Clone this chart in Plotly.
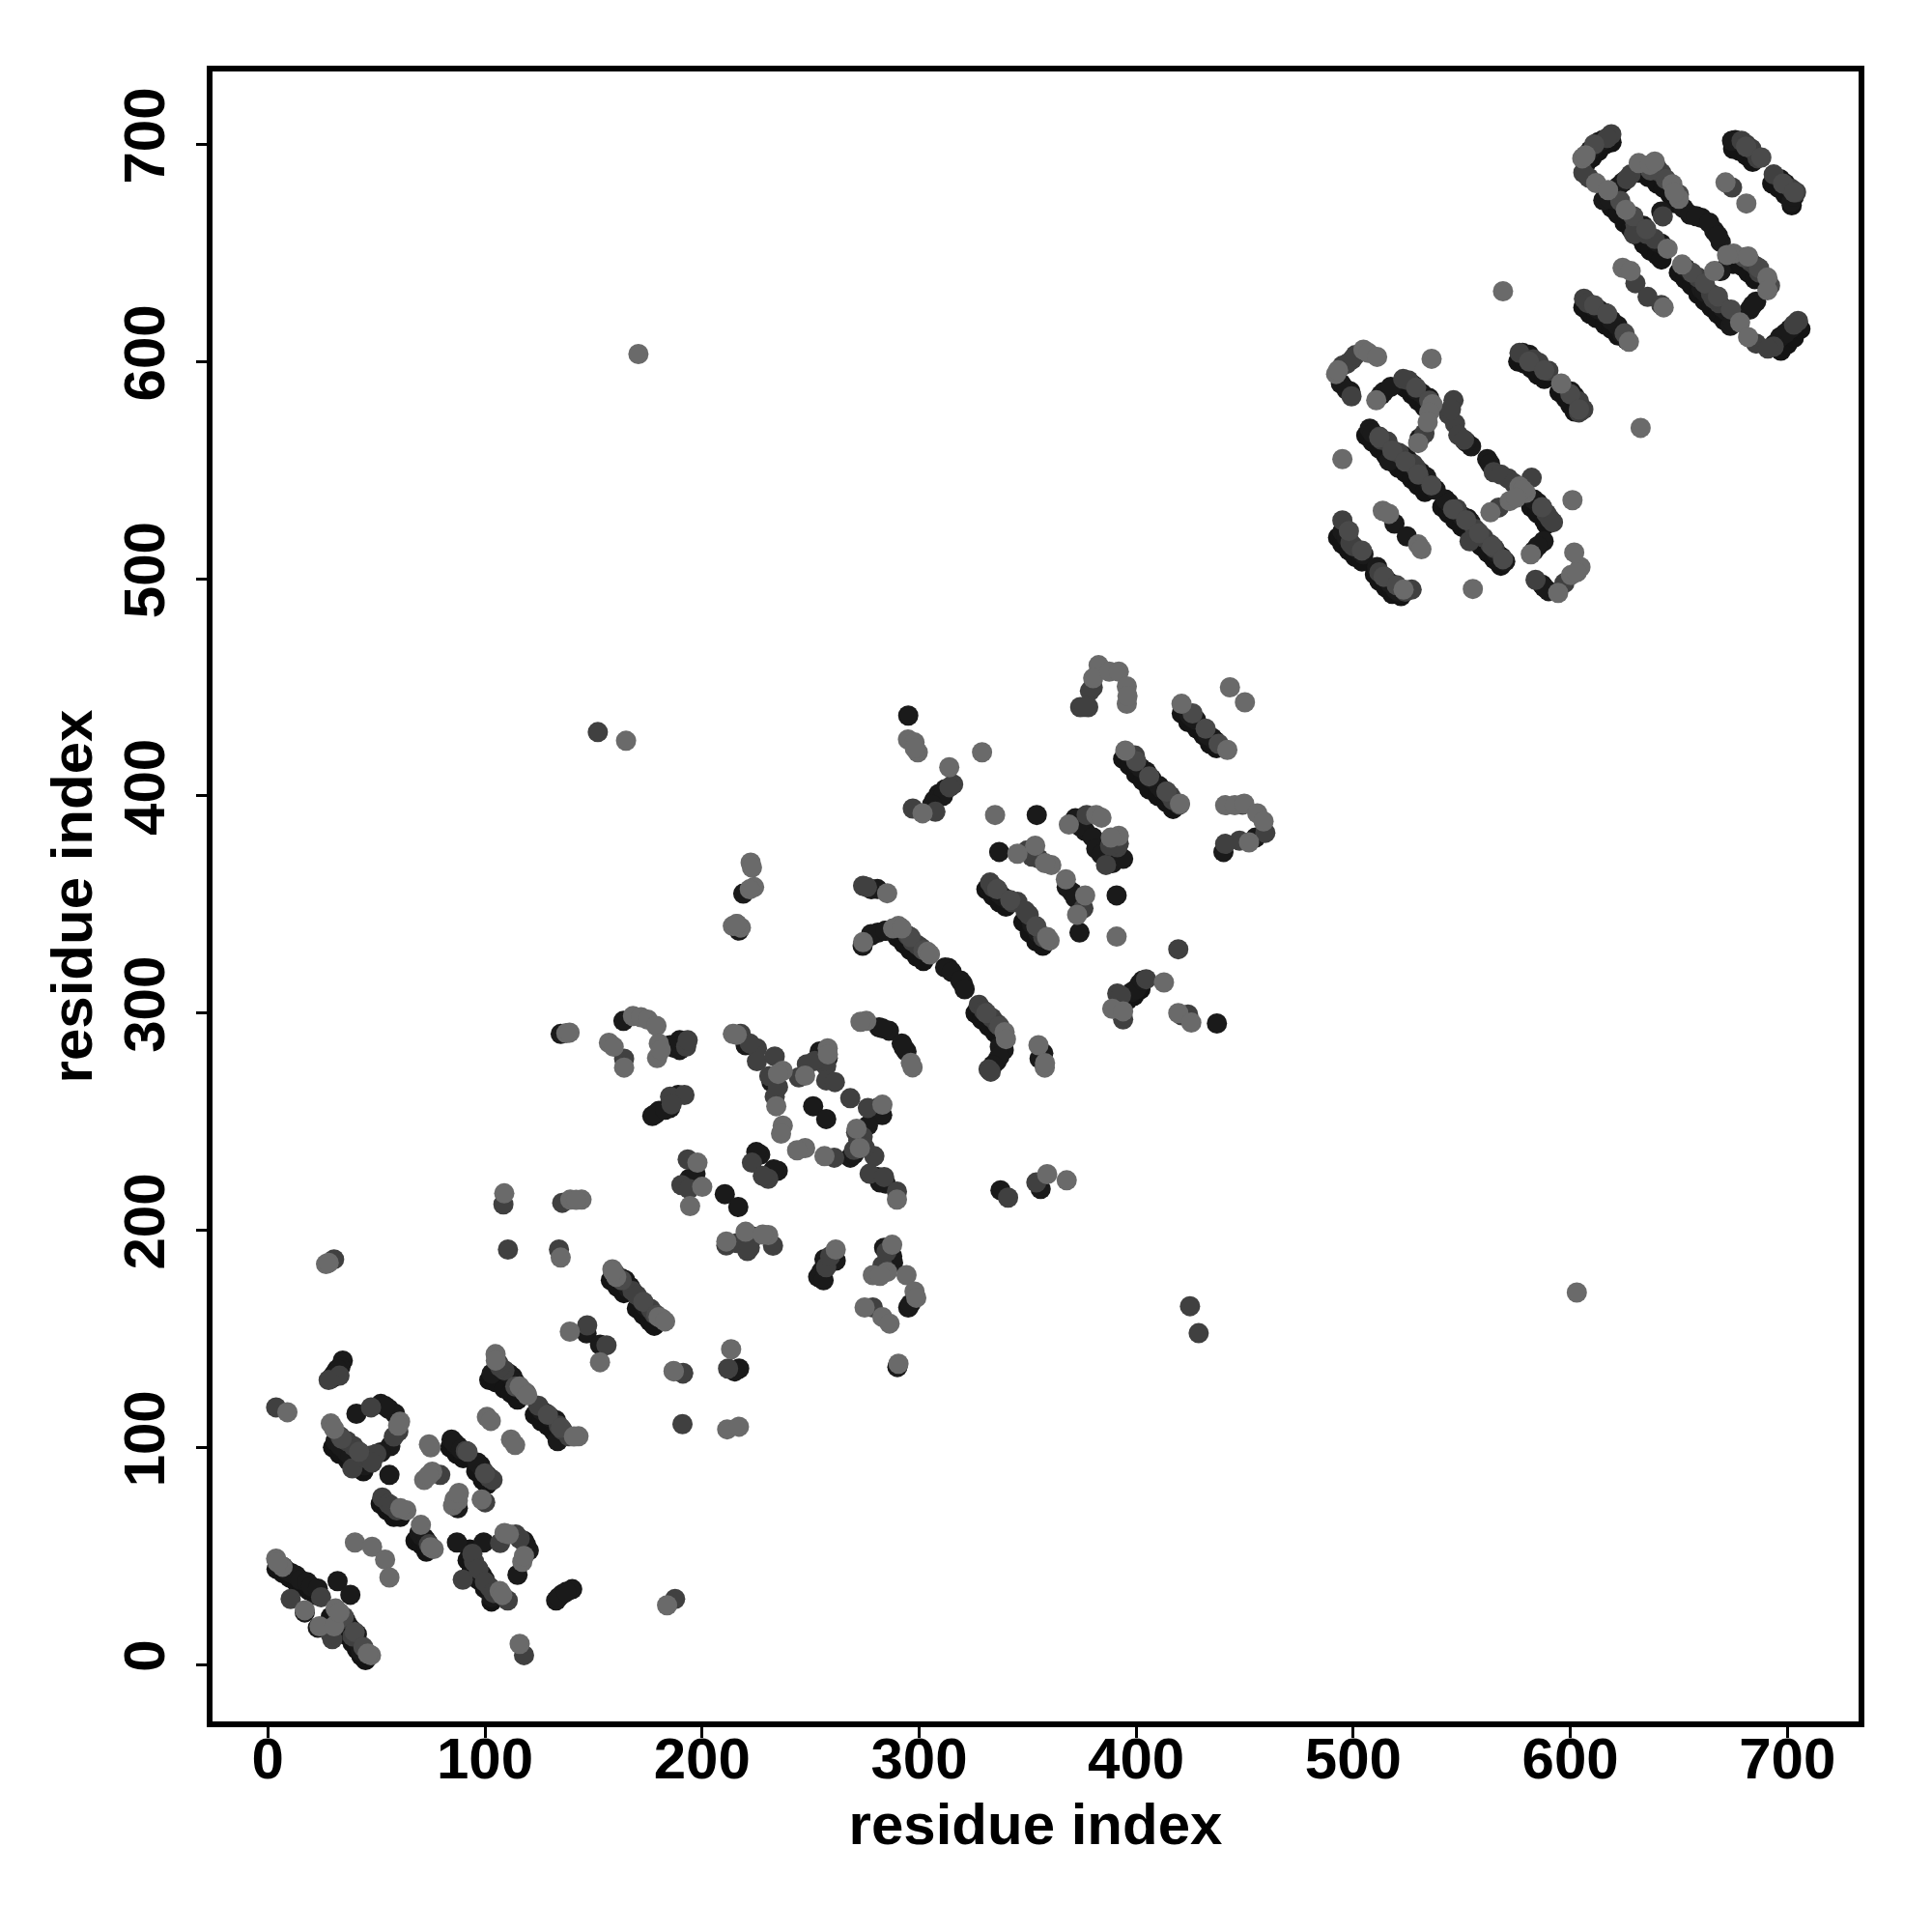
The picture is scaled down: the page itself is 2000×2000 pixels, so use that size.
import plotly.graph_objects as go

edge_strong = [
(4,44),(7,42),(10,40),(13,38),(16,36),(19,34),(22,32),(29,22),(32,19),(35,16),(37,13),(39,10),(41,7),(43,4),(45,2),
(30,100),(33,97),(37,94),(40,91),(44,89),
(84,100),(87,97),(90,95),(96,89),(99,85),(101,83),(52,74),(55,71),(58,68),(61,68),(68,57),(71,55),(73,52),
(93,53),(92,48),(94,44),(97,39),(100,35),(103,29),
(102,131),(105,130),(109,127),(112,125),(115,122),(123,115),(126,112),(129,110),(132,107),
(158,177),(161,174),(164,171),(170,164),(173,161),(176,158),(178,156),
(290,335),(293,332),(296,329),(299,326),(302,324),(326,300),(329,297),(332,294),(335,291),(337,289),
(331,357),(334,354),(337,351),(340,349),(348,342),(351,337),(354,333),(357,331),
(394,417),(397,414),(400,410),(403,407),(406,403),(410,400),(414,397),(417,394),
(421,438),(424,434),(428,431),(431,428),(434,424),(437,422),(396,306),(399,308),(402,311),
(524,588),(527,585),(530,582),(533,579),(535,577),
(506,566),(509,563),(512,560),(515,557),(518,554),(521,551),(524,549),(527,546),(530,543),(533,540),
(541,533),(544,530),(547,527),(550,524),(553,522),(556,518),(559,515),(562,512),(565,509),(568,506),
(493,519),(495,516),(498,513),(501,510),(504,508),(510,502),(512,499),(515,496),(518,493),(522,492),
(576,600),(579,599),(582,597),(585,594),(588,592),(595,586),(598,583),(600,580),(602,577),(582,533),(585,530),(588,527),(589,525),
(607,691),(610,694),(613,697),(616,700),(619,701),(619,671),(622,668),(625,664),(628,661),(631,658),(634,656),
(632,687),(636,685),(640,682),(643,680),(646,677),(648,673),
(650,641),(653,638),(656,635),(659,631),(662,628),(665,625),(668,622),(671,619),(675,645),(679,644),(682,641),(685,638),
(606,625),(609,622),(612,620),(616,617),(619,615),(622,612),(675,698),(678,697),(681,695),(684,692),(693,682),(696,680),(699,677),(702,672),
(697,605),(700,608),(703,611),(706,615),(634,654),(637,651),(640,649),(642,647),
]

crest_medium = [
(35,22),(40,15),(44,8),(34,104),(42,98),(92,98),(100,88),(114,128),(119,125),(129,115),(135,109),(163,177),(173,167),(179,161),
(296,335),(302,329),(331,300),(337,294),(336,357),(342,352),(354,340),(359,334),(400,416),(406,409),(414,402),(420,396),(426,438),(432,431),(438,424),
(529,588),(535,582),(512,565),(518,559),(524,554),(530,548),(536,543),(546,532),(552,527),(558,521),(564,515),(569,509),
(498,522),(504,513),(514,501),(520,497),(581,600),(588,596),(600,585),(604,578),(587,533),
(606,694),(611,700),(623,674),(629,667),(635,661),(637,688),(644,684),(650,677),(656,641),(662,636),(668,630),(674,624),(680,648),(687,643),(692,635),
(611,626),(617,622),(625,613),(681,699),(688,694),(698,682),(703,678),
]

strong_contacts = [
(5,46),(7,45),(9,43),(11,42),(13,41),(15,39),(18,38),(20,36),(23,35),(17,24),(23,17),(32.1,38.4),(38,32.1),(56,87.3),
(35.7,20.6),(38.6,16),(40.8,11.7),(42.3,8.7),(44.6,6.5),(37,18),(41,14),(43,6),(45,5),
(31.2,102.9),(36.4,97.7),(40.1,94),(44.6,91.7),(33.5,100.5),(38,96),(42,93),(40.8,115.5),(52,120),(55.7,117.7),(58.6,115.5),(56.4,100.6),(52,97.7),(54,119),
(34.5,140),(33.4,137),(31.2,134.7),(29.4,131.8),(32,136),(30,133),
(84.6,103.6),(87.5,100.6),(97.9,91.7),(99.4,88.8),(86,102),(89,99),(96.5,93),(101,87),(72,58.4),(69.8,60.6),(71,59),(73,57),(87.1,56.2),
(99.4,56.2),(98.6,41.3),(118,56.9),(120.2,52.5),(115,41.3),(103.1,31),(100,39),(101.5,36),(119,55),
(132.8,29.5),(135.7,32.4),(140.2,34.7),(134,31),(137.5,33.5),
(103.1,134),(112.7,132.5),(115,127.3),(111,134),(114,130),(128.3,115.5),(132.7,112.5),(133.5,102.9),(126,117),(130,114),
(146.8,152.5),(153,147.3),(87.5,72),
(164.6,177),(166.8,174),(172.8,166.6),(175.7,163.6),(165,175),(163,177.8),(166,173.3),(172.7,166.7),(174,165),
(134.9,290.4),(163.8,296.4),(185.3,285.2),(189.7,287.5),(189.7,283),(187,284),(177.1,252.6),(180.1,254.9),(185.3,256.3),(189,262.3),(178.5,253.5),(183,255.5),
(220.1,285.2),(232,268.2),(233,270),(254.2,282.3),(257.9,279.3),(255,279),(251.2,257.1),(257.2,251.2),(280.9,256.3),(280,253),(283,253),(276.4,248.2),(268.3,233.4),(270,235),(280.9,224.5),(284.6,221.5),(282,222),
(226.8,234.8),(225,236),(234.9,227.4),(233,228),(194.2,223.7),(197,226),(210.5,216.6),(216.7,210.7),(223.8,197),(222,196),
(261.6,186),(256.4,186.7),(253.5,178.5),(255,181),(256,177),(287.6,188),(283.9,191.9),(286.1,186.7),(288,185),(295,164.4),(296,166),(290,137),(217.1,136.3),(215,135),
(277.9,335.6),(284.6,337.9),(281,337),(274,331),(313.5,320.8),(320.2,313.4),(312,321),(315,319),(319,315),(321,311),(281.6,293.4),(286.1,291.9),(283,293),(292,286),(294.2,282.3),(293,284),
(280.8,357.1),(278,357),(277.9,336.4),(284.5,337.9),(337.2,284.5),(335.7,277.8),(339,283),(337,280),(334,276),(357.2,281.5),(355.5,279),
(309,400.9),(312,403.1),(307,398),(311,400),(306,396),(354.2,391.2),(336.9,374.2),(370.5,355.6),(368,358),(372,353),(373.9,337.1),(391,354.2),(372,389.7),(376.5,383.8),(374,386),(380,381),(381.6,375.7),(386.8,371.2),(384,373),(391.3,372.7),(389,369),(394,371),
(335.7,357.1),(338.7,353.4),(337,355),(341,352),(353.5,339.3),(352,341),(355,337),(357,335),
(400.2,415),(404.6,411.2),(410.5,404.6),(402,413),(407,408),(412,403),(424.6,437.2),(427.6,435),(435,426.8),(436.5,425.3),(426,436),(433,428),(455,380.8),(440.2,374.2),(401.6,313.4),(398,309.7),(400,311),(403,315),(437.2,295.2),
(337.5,218.4),(356,219),(219,355),(217,338),(295,437),
(494.3,589.9),(498.7,586.2),(497,587),(512.8,584.7),(514,586),(517.3,588.4),(527.6,589.2),(531.4,585.5),(535,583.2),(529,587),(533,584),(554.3,561),(552,563),(561.7,555.1),(563,553),
(583.2,536.5),(585,535),(530.6,564.7),(507.6,569.1),(509,567),(523.2,556.5),(533.6,546.9),(536.5,542.5),(535,544),(531,549),(525,555),(538,541),(516.5,554.3),
(542.5,536.5),(544,535),(552.8,527.6),(550,529),(554,526),(568.4,509.9),(566,512),(570,508),(587.7,517.3),(583.2,512.8),(585,515),
(495,521.7),(497,519),(504.7,511.3),(503,513),(511,505.4),(519.5,495),(517,498),(521,494),(519,525.4),(524.7,519.5),(581,603.2),(578,604),(600.3,586.2),(602,584),(587,497.3),(590,494.3),(588,496),
(609.2,697.3),(612.9,701),(611,699),(615,702),(615.2,674.3),(621.1,674.3),(618,675),(633.7,662.5),(631,661),(624.1,682.5),(622,680.5),(641.9,669.1),(652.2,670.6),(655.2,667.6),(660.4,666.2),(666.3,660.2),(669.3,655),(658,667),(664,664),(668,658),
(641.9,654.3),(640,655),(669.3,641.7),(685.6,627.6),(682.6,623.9),(684,626),(655.2,641),(653,643),(660.4,633.5),(662,632),(672.2,623.2),(670,625),(673.7,616.5),(675,618),
(696.7,611.3),(701.2,615),(699,613),(694,608),(610.7,625.4),(615.9,622.4),(613,624),(621.8,616.5),(619,619),(624,612.8),(626,610),(674.5,701.7),(676,702),(696.7,684),(699,682),(701.9,673.6),(703,676),
]

medium_contacts = [
(24.5,31),(10.5,30.2),(29.7,11.7),(29,14),(32.7,22),(34,21),(39,13),
(33.4,105),(36.4,102.9),(39.4,100.6),(42.3,97.7),(47.5,96.2),(38.9,90.3),(45,95),(50,97),(47.5,118.4),(60.1,107.3),(58,105),(48,93),
(33,133),(28,131),(30.5,186.6),(3.8,118.4),(91.2,98.4),(103.5,85),(102,86),(79.4,87.3),(100.1,74.7),
(52.7,76.9),(55.7,74),(59.4,71),(57,73),(74.2,55.4),(95,47.3),(94.2,51),(102.4,35.4),(110.5,29.5),(89.8,39.1),(97,44),(100,38),(104,33),(114.2,59.9),(116,58),(107,56),
(187.6,30.2),(118,4.3),(109,135.5),(107,137),(106,139),(124.6,119.2),(135.7,108),(138.7,105.1),(134,110),(147.1,156.2),(156,147),(191.3,134.3),(191,110.7),(178,161.4),(176.4,163.7),
(168,172),(170,170),(160,180),
(164.1,279),(192.7,284.5),(193.4,287.5),(185.3,261.5),(191.9,262.3),(186,258),(217.9,290.4),(225.3,283.8),(225.3,277.8),(233.5,280),(233.5,261.5),(231,271),(235,266),(222,286),(244.6,270.4),(248.3,276.4),(257.2,275.6),(257.2,269),(261.2,268.2),(252,278),
(268.3,260.8),(276.4,256.3),(272,241.5),(260.9,233.4),(279.4,234.1),(277.2,226),(283.9,224.5),(289.8,217.8),(274,243),(271,245),(270,237),(275,238),
(223,231.1),(230.5,223.7),(228,225),(193.4,232.6),(190.5,220.8),(194,219),(211.2,193),(216.4,194.1),(220.9,190.4),(232.7,192.9),(222,192),
(257.2,183),(259,188),(283.1,183.7),(285,190),(278.7,164.4),(108.5,211.9),(135.6,212.6),(110.6,191.1),(134.1,191.1),(191.2,134),(212,136.3),
(295,335.6),(299.4,331.2),(297,333),(301,330),
(297.1,394.2),(307.5,392.7),(315.7,405.3),(314,404),(349.8,374.9),(355,371.2),(352,372),(375.7,348.2),(377.2,391.2),(391.3,376.4),(386.1,368.2),(388,377),(392,378),
(332.7,360.1),(334,358),(345.3,351.2),(343,351),(350.5,345.3),(357.2,334.9),(349,347),
(374.2,440.9),(377.9,440.9),(378.7,448.3),(376,441),(380,450),(399.4,418.6),(415.7,400.1),(414,402),(417,398),(449,396),(459.5,383),(447.6,379.4),(441,377.9),(404.6,315.6),(391.3,309),(393,308),(394,297.1),(419.4,329.4),(423.9,299.3),(421,299),
(274.2,358.6),(276,358),(327.5,303.8),(333.5,297.8),(330,301),(336,295),(332,274.1),(333,273),(424.8,165),(428.8,152.6),(152,429.4),(341,215),(354,222),
(495,598.1),(499.5,601),(497,599),(501,603),(499.2,584),(525.4,591.4),(523,592),(546.2,582.2),(544,575.8),(546.9,571.4),(548.4,566.2),(545,578),(551,564),(564.7,549.1),(571.4,546.2),(582.2,546.5),(568,548),(574,544),(587,532.8),(590.6,527.6),(589,530),(592,526),
(532.8,566.9),(512.1,565.4),(515.8,563.2),(518.8,558.8),(513,564),(521,558),(527.6,552.8),(529,551),(547.7,532.1),(557.3,521.7),(563.2,515.8),(560,519),(553.6,517.3),(556,523),(565,514),(567,532.8),
(495,526.9),(498.7,516.5),(500,515),(514.3,501),(512,503),(526.9,495),(524,494),(576.6,604),(585.5,599.5),(589.9,595.8),(583,601),(604,581.7),(604,576.6),(606,578),(584,499.5),(597.3,498),
(618.9,704.7),(617,703),(608.5,684.7),(606,687),(630,663.2),(629.3,658.7),(627.8,686.2),(626,684),(641.9,686.9),(640,689),(642.6,666.9),(635.2,658.7),(638.9,656.5),(685.6,643.9),(683,646),(687,641),(658.9,638.7),(664.8,631.3),(668.5,626.9),(666,629),(685.6,608.3),(693.7,606.9),(691,606),(704.9,618.7),(703,617),(630,636.1),(635.6,629.8),(641.9,626.1),(606.3,629),(608,627),(678.9,701.7),(683.4,698),(686.3,693.6),(681,700),(693.7,686.2),(701.9,679.5),(704,678),(674.5,680.2),
]

weak_contacts = [
(3.8,48.8),(6.8,45),(4.5,47),(17,25),(23.8,17.6),(30.5,17.6),(31.2,25.8),(33,24),(47.5,4.3),(46,5),(40.1,56.2),(48,54.2),(54,48.3),(56,40.1),
(29,111),(30.5,108.5),(60.9,111.8),(60,110),(26.8,184.4),(28,185),(9,116.2),
(75,100),(74.2,101.4),(72,85),(75.7,88.8),(74,87),(87.5,77.7),(87.5,75.4),(85.3,73.2),(86,76),(88,79),(98.5,76),(63.8,71),(61,72),(70.5,64.3),(76.4,53.2),(75,54),
(106.8,33.9),(108,32),(109,60.6),(111,60),(117.2,47.3),(118,50),
(116,9.5),(183.9,27.3),(104.9,142.9),(105,140),(118,125.8),(116,128),(119.5,124),(143.1,105.1),(141,105),(100.9,114),(102.7,112.2),(112,103.6),(113.9,101.1),(139.1,153.3),(153,139.2),(186.9,135.2),
(158.7,182),(160.5,178.5),(159,181),(181.7,159.2),(180,160),(183,158),
(137.5,290.7),(139,291),(168.2,298.6),(171.9,298.1),(175,297),(179,294.1),(157.1,286.3),(159.3,284.5),(164.1,274.9),(180.1,286),(179.3,279.3),(181,283),
(214.2,290.4),(216,290),(237.2,273.4),(235,272),(234.2,257.1),(247.5,271.2),(257.9,283.8),(258,281),(271.2,246.7),(272.7,237.8),(256.4,234.1),(283.1,257.8),(289.8,214.1),(237.2,248.2),(236.4,244.5),(247.5,237.8),(243.8,236.8),
(197.9,231.1),(200.1,220),(194.5,211.1),(211.2,194.8),(220.1,199.3),(230.5,197.8),(228,198),(261.6,191.1),(287.6,193.3),(278.7,179.3),(285.3,180.8),(282,179),(294.2,179.3),(297.9,171.8),(298.7,168.9),(274.9,164.4),(283.1,160),(286.4,157),(290.5,138.5),
(108.9,217),(139.3,214.1),(144.5,214.1),(142,214),(134.9,187.4),(213.4,145.2),(187,135),(211.6,108.3),(217,109.5),
(214.2,340.1),(217.9,339.4),(216,341),(274.2,332.7),(290.5,340.1),(288,339),(292,339),(303.9,328.2),(305,327),(275.7,296.4),(273,296),(296.2,277.1),(297,275),
(294.9,426),(297.9,424.6),(299.4,420.1),(298,422),(313.9,413.2),(329,420.1),(301.6,392),(335,391.2),(345.3,373.4),(353.5,377.1),(360.9,368.2),(358,369),(367.6,361.6),(376.5,354.2),(372.8,345.3),(391,335.2),
(369,386.8),(381.6,391.2),(384,390),(392,381.6),(388.3,380.8),(360.1,333.4),(359,335),
(382.7,460.2),(380.2,454.2),(387.6,457.2),(392,457.2),(395.7,450.5),(395.7,442.4),(396,446),(395,420.9),(420.2,396.4),(420.9,442.4),(442,421.2),(443.2,450),(450.1,443.1),(441,395.7),(445.4,395.7),(449.8,396.4),(455.8,392),(458.7,388.3),(452,378.6),(412.8,314.1),(389,302),(394,300.8),(419.4,300),(425.4,295.6),(285.3,355.2),(339.4,291.2),(340,288),(355,285.2),(357.9,274.9),(358,277),
(359,225.8),(368,223),(222.4,369.3),(223,367),(224,358),(222,357),(216,341),(603,171.3),(170.7,603.5),(165,425.4),
(492.1,594.3),(493,596),(504.7,605.5),(507,604),(511,602.2),(536.1,601.3),(510.6,582.2),(536.5,580.3),(535,576.6),(534.3,572.1),(529.9,562.5),(576.6,542.5),(579.5,539.5),(578,541),(572.1,535.8),(575.1,537.3),(563.2,530.6),(601,536.2),(581.8,511.3),
(513.6,531.3),(516.5,529.9),(529.9,515.8),(531.4,513.6),(555.1,495.3),(523.2,495),(594.4,493.5),(600.3,501.7),(604.7,505.4),(601.8,512.1),(603,503),(595.8,589.9),(495,555.1),(569,632.4),(632.4,569.5),
(605.5,693.6),(607,695),(611.9,682.2),(617.4,679),(625.6,669.9),(631.5,691.4),(636.7,690.6),(638.9,692.1),(647,681.7),(650,675),(648,678),(644.8,652),(675.2,649.8),(672.2,649.1),(681.9,648.4),(690.8,638.7),(690.8,632.8),(666.3,641.7),(651.5,644.7),(678.2,618),(681.9,611.3),
(624.1,643.2),(627.8,641.7),(643,625),(627,609.1),(671.5,682.5),(681.1,672.8),
]

x_ticks = [0, 100, 200, 300, 400, 500, 600, 700]
y_ticks = [0, 100, 200, 300, 400, 500, 600, 700]
axis_title = "residue index"

fig = go.Figure()
layers = ((edge_strong, "#141414"), (strong_contacts, "#1a1a1a"), (medium_contacts, "#404040"),
          (crest_medium, "#4a4a4a"), (weak_contacts, "#6a6a6a"))
for pts, col in layers:
    fig.add_trace(go.Scatter(x=[p[0] for p in pts], y=[p[1] for p in pts], mode="markers",
                             marker=dict(size=21, color=col, line=dict(width=0)), showlegend=False))

title_font = dict(family="Liberation Sans", size=60, color="black", weight="bold")
tick_font = dict(family="Liberation Sans", size=60, color="black", weight="bold")
common = dict(showgrid=False, zeroline=False, showline=True, mirror=True, linecolor="black", linewidth=6,
              ticks="outside", ticklen=11, tickwidth=3, tickcolor="black", tickfont=tick_font, tickmode="array")
fig.update_xaxes(range=[-25.5, 732.8], tickvals=x_ticks, ticktext=[str(v) for v in x_ticks], ticklabelstandoff=-30,
                 title=dict(text=axis_title, font=title_font, standoff=16), **common)
fig.update_yaxes(range=[-26.2, 733.6], tickvals=y_ticks, ticktext=[str(v) for v in y_ticks], tickangle=-90, ticklabelstandoff=9,
                 title=dict(text=axis_title, font=title_font, standoff=3), **common)
fig.update_layout(width=2000, height=2000, autosize=False, paper_bgcolor="white", plot_bgcolor="white",
                  margin=dict(l=211.5, r=83.5, t=65.5, b=226, autoexpand=False))
fig.write_html("out.html")
